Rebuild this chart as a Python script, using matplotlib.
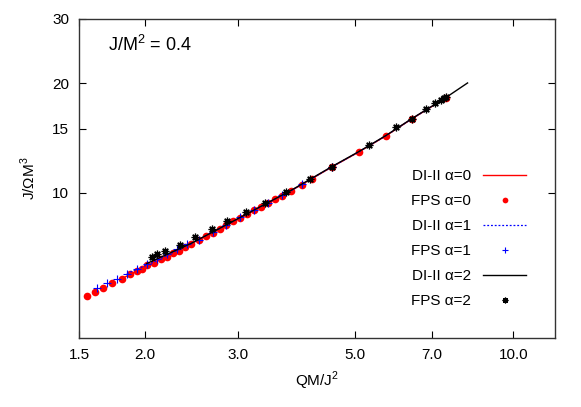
import matplotlib
matplotlib.use("Agg")
import matplotlib.pyplot as plt
from matplotlib.ticker import FixedLocator, FixedFormatter, NullLocator

plt.rcParams['font.family'] = ['Liberation Sans', 'DejaVu Sans']
plt.rcParams['mathtext.fontset'] = 'custom'
plt.rcParams['mathtext.rm'] = 'Liberation Sans'

# DI-II curves (QM/J^2 vs J/(Omega M^3))
di_a0_x = [1.809, 2.079, 2.452, 2.857, 3.327, 3.791, 4.532, 5.097, 5.733, 6.420, 7.444]
di_a0_y = [5.82, 6.44, 7.26, 8.15, 9.17, 10.14, 11.79, 12.96, 14.34, 15.96, 18.22]
di_a1_x = [1.849, 2.079, 2.452, 2.857, 3.327, 3.791, 4.532, 5.097, 5.733, 6.420, 7.444]
di_a1_y = [6.01, 6.46, 7.28, 8.17, 9.19, 10.15, 11.80, 12.97, 14.35, 15.97, 18.23]
di_a2_x = [2.016, 2.452, 2.857, 3.327, 3.791, 4.532, 5.097, 5.733, 6.420, 7.444, 8.19]
di_a2_y = [6.40, 7.28, 8.18, 9.20, 10.17, 11.82, 12.99, 14.37, 15.99, 18.25, 20.03]

# FPS models
fps_a0_x = [1.553, 1.608, 1.665, 1.731, 1.809, 1.874, 1.931, 1.973, 2.016, 2.079,
            2.144, 2.200, 2.258, 2.318, 2.379, 2.452, 2.529, 2.609, 2.688, 2.772,
            2.857, 2.945, 3.036, 3.130, 3.227, 3.327, 3.430, 3.536, 3.645, 3.791,
            3.977, 4.154, 4.532, 5.097, 5.733, 6.420, 7.444]
fps_a0_y = [5.23, 5.36, 5.50, 5.67, 5.82, 6.01, 6.12, 6.20, 6.36, 6.44,
            6.60, 6.69, 6.86, 6.94, 7.12, 7.26, 7.42, 7.60, 7.78, 7.97,
            8.15, 8.35, 8.55, 8.75, 8.96, 9.17, 9.38, 9.60, 9.83, 10.14,
            10.52, 10.93, 11.79, 12.96, 14.34, 15.96, 18.22]
fps_a1_x = [1.622, 1.694, 1.770, 1.849, 1.931, 2.016, 2.106, 2.200, 2.298, 2.400,
            2.529, 2.688, 2.857, 3.036, 3.227, 3.430, 3.645, 3.977, 4.532]
fps_a1_y = [5.50, 5.67, 5.82, 6.01, 6.20, 6.40, 6.60, 6.81, 7.03, 7.26,
            7.45, 7.81, 8.18, 8.58, 8.99, 9.41, 9.86, 10.55, 11.81]
fps_a2_x = [2.061, 2.106, 2.181, 2.328, 2.485, 2.676, 2.869, 3.117, 3.386, 3.711,
            4.119, 4.532, 5.324, 5.988, 6.420, 6.824, 7.096, 7.284, 7.379, 7.444]
fps_a2_y = [6.69, 6.81, 6.94, 7.21, 7.58, 7.98, 8.39, 8.88, 9.40, 10.07,
            10.93, 11.79, 13.55, 15.18, 15.96, 17.00, 17.66, 18.00, 18.22, 18.33]

x_ticks = [1.5, 2.0, 3.0, 5.0, 7.0, 10.0]
x_tick_labels = ["1.5", "2.0", "3.0", "5.0", "7.0", "10.0"]
y_ticks = [10, 15, 20, 30]
y_tick_labels = ["10", "15", "20", "30"]

fig = plt.figure(figsize=(5.81, 4.07), dpi=100)
ax = fig.add_axes([79 / 581, 1 - 338 / 407, (555 - 79) / 581, (338 - 19) / 407])
ax.set_xscale('log')
ax.set_yscale('log')

ax.plot(di_a0_x, di_a0_y, color='red', lw=1.0, label='DI-II α=0', zorder=2)
ax.plot(fps_a0_x, fps_a0_y, ls='none', marker='o', ms=5.5, color='red',
        markeredgewidth=0, label='FPS α=0', zorder=3)
ax.plot(di_a1_x, di_a1_y, color='blue', lw=0.9, ls=(0, (1.5, 1.5)),
        label='DI-II α=1', zorder=4)
ax.plot(fps_a1_x, fps_a1_y, ls='none', marker='+', ms=6, color='blue',
        markeredgewidth=0.8, label='FPS α=1', zorder=4)
ax.plot(di_a2_x, di_a2_y, color='black', lw=1.0, label='DI-II α=2', zorder=5)
ax.plot(fps_a2_x, fps_a2_y, ls='none', marker=(8, 2, 0), ms=5.5, color='black',
        markeredgewidth=0.9, label='FPS α=2', zorder=6)

ax.set_xlim(1.5, 12)
ax.set_ylim(4, 30)
ax.xaxis.set_major_locator(FixedLocator(x_ticks))
ax.xaxis.set_major_formatter(FixedFormatter(x_tick_labels))
ax.xaxis.set_minor_locator(NullLocator())
ax.yaxis.set_major_locator(FixedLocator(y_ticks))
ax.yaxis.set_major_formatter(FixedFormatter(y_tick_labels))
ax.yaxis.set_minor_locator(NullLocator())
ax.tick_params(direction='in', length=5, width=0.8, top=True, right=True,
               labelsize=11, pad=7)
for s in ax.spines.values():
    s.set_linewidth(1.0)
    s.set_color('#333333')

ax.set_xlabel(r'QM/J$^2$', fontsize=11, labelpad=6)
ax.set_ylabel(r'J/$\Omega$M$^3$', fontsize=11, labelpad=10)
ax.text(0.06, 0.9, r'J/M$^2$ = 0.4', transform=ax.transAxes, fontsize=13)

# gnuplot-like key: text on the left, right aligned, sample on the right
leg = ax.legend(loc='lower right', bbox_to_anchor=(0.968, 0.05), frameon=False,
                markerfirst=False, fontsize=11, handlelength=2.8,
                labelspacing=0.72, handletextpad=0.8, markerscale=0.75)

fig.savefig('out.png', dpi=100)
